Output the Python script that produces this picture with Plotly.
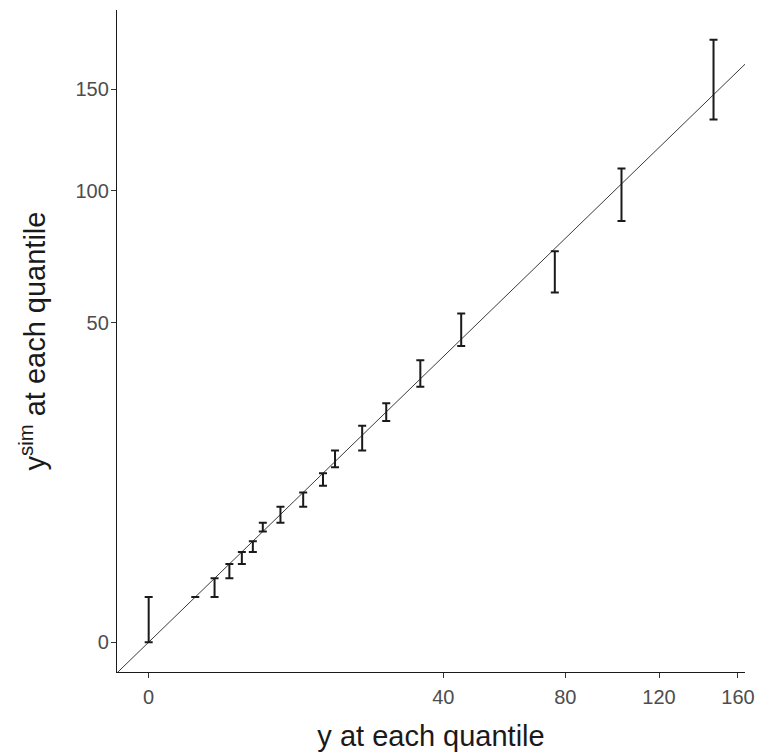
import numpy as np
import plotly.graph_objects as go

# Observed quantiles of y and simulated interval (ysim) at each quantile
y_quantile = [0, 1, 2, 3, 4, 5, 6, 8, 11, 14, 16, 21, 26, 34, 45, 76, 103, 147]
ysim_low = [0, 1, 1, 2, 3, 4, 6, 7, 9, 12, 15, 18, 24, 32, 43, 60, 87, 134]
ysim_high = [1, 1, 2, 3, 4, 5, 7, 9, 11, 14, 18, 23, 28, 39, 53, 75, 110, 178]

x_ticks = [0, 40, 80, 120, 160]
y_ticks = [0, 50, 100, 150]

# sqrt-scale axis limits (in transformed units)
x_range = [-0.68, 12.8]
y_range = [-0.66, 14.0]

sx = np.sqrt(np.array(y_quantile, dtype=float))
slo = np.sqrt(np.array(ysim_low, dtype=float))
shi = np.sqrt(np.array(ysim_high, dtype=float))

fig = go.Figure()

# identity line
line_ends = [x_range[0], x_range[1]]
fig.add_trace(go.Scatter(
    x=line_ends, y=line_ends, mode="lines",
    line=dict(color="#3a3a3a", width=1), hoverinfo="skip", showlegend=False,
))

# error bars
fig.add_trace(go.Scatter(
    x=sx, y=slo, mode="markers",
    marker=dict(size=0.1, color="rgba(0,0,0,0)"),
    error_y=dict(type="data", symmetric=False, array=shi - slo,
                 arrayminus=np.zeros_like(slo),
                 color="#1a1a1a", thickness=2, width=4),
    showlegend=False,
))

tick_font = dict(family="Liberation Sans, Arial, sans-serif", size=20, color="#4D4D4D")
title_font = dict(family="Liberation Sans, Arial, sans-serif", size=29, color="#1a1a1a")

fig.update_layout(
    width=760, height=752,
    margin=dict(l=117, r=15, t=10, b=80),
    paper_bgcolor="white", plot_bgcolor="white",
    showlegend=False,
)
fig.update_xaxes(
    range=x_range, showgrid=False, zeroline=False,
    showline=True, linecolor="#1a1a1a", linewidth=1.3,
    ticks="outside", ticklen=5, tickwidth=1.3, tickcolor="#333333",
    tickvals=np.sqrt(np.array(x_ticks, dtype=float)), ticktext=[str(v) for v in x_ticks],
    tickfont=tick_font, ticklabelstandoff=2,
    title=dict(text="y at each quantile", font=title_font, standoff=18),
    automargin=False,
)
fig.update_yaxes(
    range=y_range, showgrid=False, zeroline=False,
    showline=True, linecolor="#1a1a1a", linewidth=1.3,
    ticks="outside", ticklen=5, tickwidth=1.3, tickcolor="#333333",
    tickvals=np.sqrt(np.array(y_ticks, dtype=float)), ticktext=[str(v) for v in y_ticks],
    tickfont=tick_font, ticklabelstandoff=-2,
    title=dict(text="y<sup style='font-size:70%'>sim</sup> at each quantile", font=title_font, standoff=21),
    automargin=False,
)

fig.write_html("out.html")
